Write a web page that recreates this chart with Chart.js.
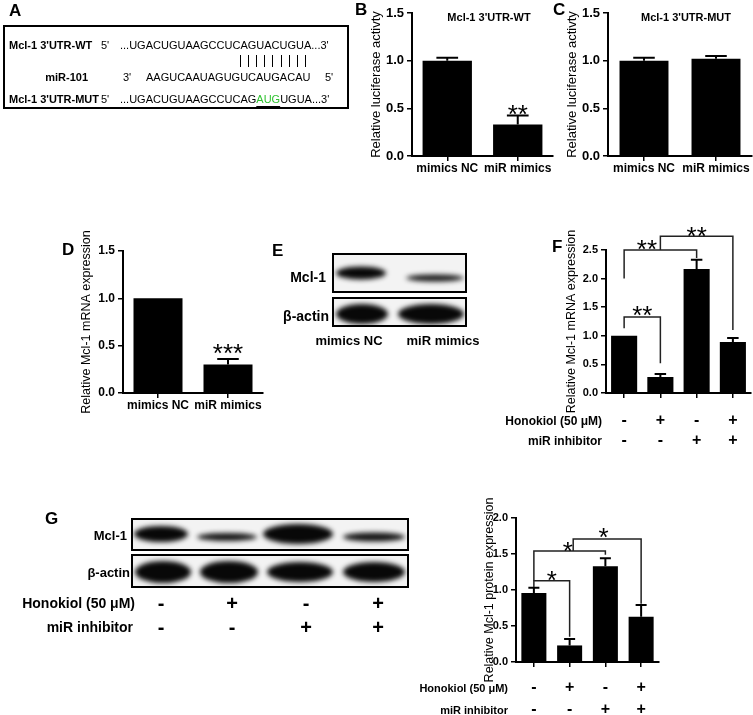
<!DOCTYPE html>
<html>
<head>
<meta charset="utf-8">
<title>miR-101 / Mcl-1</title>
<script src="https://cdn.jsdelivr.net/npm/chart.js@4.4.1/dist/chart.umd.min.js"></script>
<style>
  html, body { margin: 0; padding: 0; background: #fff; }
  #fig { position: relative; width: 753px; height: 715px; overflow: hidden;
         font-family: "Liberation Sans", Arial, sans-serif; color: #000; }
  #fig canvas { position: absolute; }
  .t { position: absolute; white-space: nowrap; line-height: 1; }
  .b { font-weight: bold; }
  .box { position: absolute; border: 2px solid #000; box-sizing: border-box; }
  .pair { position: absolute; width: 1px; height: 12px; background: #000; }
  .mut { color: #2fc22f; text-decoration: underline; text-decoration-color: #000; text-underline-offset: 3px; }
</style>
</head>
<body>
<div id="fig">
  <canvas id="blots" width="753" height="715" style="left:0;top:0"></canvas>
  <div class="box" style="left:3px;top:25px;width:346px;height:84px"></div>
  <canvas id="chartB" width="200" height="200" style="left:355px;top:0"></canvas>
  <canvas id="chartC" width="203" height="200" style="left:550px;top:0"></canvas>
  <canvas id="chartD" width="265" height="200" style="left:0;top:230px"></canvas>
  <canvas id="chartF" width="203" height="240" style="left:550px;top:220px"></canvas>
  <canvas id="chartG" width="313" height="235" style="left:440px;top:480px"></canvas>
</div>
<script>
// ---- data ----
const mimicLabels = ["mimics NC", "miR mimics"];
const wtValues = [1.0, 0.33];
const wtErrors = [0.03, 0.095];
const mutValues = [1.0, 1.02];
const mutErrors = [0.03, 0.03];
const mrnaValues = [1.0, 0.30];
const mrnaErrors = [0, 0.06];

const groupLabels = ["NC", "Honokiol", "inhibitor", "Honokiol + inhibitor"];
const honokiolSigns = ["-", "+", "-", "+"];
const inhibitorSigns = ["-", "-", "+", "+"];
const comboMrnaValues = [1.0, 0.28, 2.17, 0.89];
const comboMrnaErrors = [0, 0.05, 0.16, 0.07];
const proteinValues = [0.96, 0.23, 1.33, 0.63];
const proteinErrors = [0.07, 0.09, 0.11, 0.16];

// brackets: [from index, to index, level, left leg end, right leg end]
const comboMrnaBrackets = [[0, 1, 1.33, 1.13, 0.52], [0, 2, 2.5, 2.0, 2.36], [1, 3, 2.74, 2.5, 1.1]];
const proteinBrackets = [[0, 1, 1.13, 1.04, 0.35], [0, 2, 1.54, 1.13, 1.49], [1.1, 3, 1.71, 1.54, 0.81]];
// stars: [x index, y value (centre), text]
const wtStars = [[1, 0.48, "**"]];
const mrnaStars = [[1, 0.465, "***"]];
const comboMrnaStars = [[0.5, 1.43, "**"], [0.63, 2.59, "**"], [2, 2.81, "**"]];
const proteinStars = [[0.5, 1.19, "*"], [0.95, 1.6, "*"], [1.95, 1.79, "*"]];

Chart.defaults.font.family = "'Liberation Sans', Arial, sans-serif";
Chart.defaults.color = "#000";

const fig = document.getElementById("fig");
function put(html, x, y, size, bold, align) {
  const d = document.createElement("div");
  d.className = "t" + (bold ? " b" : "");
  d.innerHTML = html;
  d.style.left = x + "px";
  d.style.top = (y - size / 2) + "px";
  d.style.fontSize = size + "px";
  if (align === "c") d.style.transform = "translateX(-50%)";
  if (align === "r") d.style.transform = "translateX(-100%)";
  fig.appendChild(d);
}

// error bars, brackets, stars and +/- rows
const extrasPlugin = {
  id: "extras",
  afterDatasetsDraw(chart, args, opts) {
    const { ctx, chartArea, scales: { x, y } } = chart;
    const meta = chart.getDatasetMeta(0);
    const values = chart.data.datasets[0].data;
    ctx.save();
    ctx.strokeStyle = "#000";
    ctx.lineWidth = 2;
    (opts.errors || []).forEach((err, i) => {
      if (!err) return;
      const bar = meta.data[i];
      const top = y.getPixelForValue(values[i] + err);
      const half = bar.width * 0.22;
      ctx.beginPath();
      ctx.moveTo(bar.x, bar.y);
      ctx.lineTo(bar.x, top);
      ctx.moveTo(bar.x - half, top);
      ctx.lineTo(bar.x + half, top);
      ctx.stroke();
    });
    ctx.lineWidth = 1.5;
    ctx.strokeStyle = "#222";
    (opts.brackets || []).forEach(([a, b, lvl, endA, endB]) => {
      const xa = x.getPixelForValue(a), xb = x.getPixelForValue(b);
      ctx.beginPath();
      ctx.moveTo(xa, y.getPixelForValue(endA));
      ctx.lineTo(xa, y.getPixelForValue(lvl));
      ctx.lineTo(xb, y.getPixelForValue(lvl));
      ctx.lineTo(xb, y.getPixelForValue(endB));
      ctx.stroke();
    });
    ctx.fillStyle = "#000";
    ctx.textAlign = "center";
    ctx.textBaseline = "alphabetic";
    const starSize = opts.starSize || 26;
    ctx.font = starSize + "px 'Liberation Sans', Arial, sans-serif";
    const m = ctx.measureText("*");
    const shift = (m.actualBoundingBoxAscent - m.actualBoundingBoxDescent) / 2;
    (opts.stars || []).forEach(([i, v, s]) => {
      ctx.fillText(s, x.getPixelForValue(i), y.getPixelForValue(v) + shift);
    });
    if (opts.signs) {
      ctx.font = "bold " + opts.signs.size + "px 'Liberation Sans', Arial, sans-serif";
      ctx.textBaseline = "middle";
      opts.signs.rows.forEach((row, r) => {
        row.forEach((s, i) => {
          ctx.fillText(s, x.getPixelForValue(i), chartArea.bottom + opts.signs.offsets[r]);
        });
      });
    }
    ctx.restore();
  }
};

function barChart(id, cfg) {
  return new Chart(document.getElementById(id), {
    type: "bar",
    data: {
      labels: cfg.labels,
      datasets: [{
        data: cfg.values,
        backgroundColor: "#000",
        borderWidth: 0,
        barPercentage: cfg.barPct,
        categoryPercentage: 1,
      }],
    },
    options: {
      responsive: false,
      animation: false,
      layout: { padding: cfg.padding },
      plugins: {
        legend: { display: false },
        tooltip: { enabled: false },
        extras: cfg.extras,
      },
      scales: {
        x: {
          grid: { offset: false, drawOnChartArea: false, tickLength: 5, color: "#000", lineWidth: 1.5 },
          border: { color: "#000", width: 2 },
          ticks: { display: cfg.showLabels, font: { size: 12, weight: "bold" }, padding: 0, maxRotation: 0, autoSkip: false },
          afterFit: (s) => { s.height = cfg.xH; },
        },
        y: {
          min: 0,
          max: cfg.yMax,
          ticks: { stepSize: 0.5, callback: (v) => v.toFixed(1), font: { size: cfg.tickSize, weight: "bold" }, padding: 3 },
          grid: { drawOnChartArea: false, tickLength: 5, color: "#000", lineWidth: 1.5 },
          border: { color: "#000", width: 2 },
          title: { display: true, text: cfg.yTitle, font: { size: cfg.titleSize }, padding: { top: cfg.titlePad, bottom: 0 } },
          afterFit: (s) => { s.width = cfg.yW; },
        },
      },
    },
    plugins: [extrasPlugin],
  });
}

// B
barChart("chartB", {
  labels: mimicLabels, values: wtValues, barPct: 0.7, yMax: 1.5,
  padding: { left: 0, top: 13, right: 2, bottom: 0 }, yW: 57, xH: 44,
  showLabels: true, tickSize: 13, yTitle: "Relative luciferase activty", titleSize: 13, titlePad: 13.5,
  extras: { errors: wtErrors, stars: wtStars },
});
// C
barChart("chartC", {
  labels: mimicLabels, values: mutValues, barPct: 0.68, yMax: 1.5,
  padding: { left: 0, top: 13, right: 1, bottom: 0 }, yW: 58, xH: 44,
  showLabels: true, tickSize: 13, yTitle: "Relative luciferase activty", titleSize: 13, titlePad: 14.5,
  extras: { errors: mutErrors },
});
// D
barChart("chartD", {
  labels: mimicLabels, values: mrnaValues, barPct: 0.7, yMax: 1.5,
  padding: { left: 0, top: 21, right: 2, bottom: 0 }, yW: 123, xH: 37,
  showLabels: true, tickSize: 12, yTitle: "Relative Mcl-1 mRNA expression", titleSize: 12.5, titlePad: 79.5,
  extras: { errors: mrnaErrors, stars: mrnaStars },
});
// F
barChart("chartF", {
  labels: groupLabels, values: comboMrnaValues, barPct: 0.72, yMax: 2.5,
  padding: { left: 0, top: 30, right: 2, bottom: 0 }, yW: 56, xH: 67,
  showLabels: false, tickSize: 11, yTitle: "Relative Mcl-1 mRNA expression", titleSize: 12.5, titlePad: 14.5,
  extras: { errors: comboMrnaErrors, brackets: comboMrnaBrackets, stars: comboMrnaStars,
            signs: { rows: [honokiolSigns, inhibitorSigns], offsets: [28, 48], size: 16 } },
});
// G (chart)
barChart("chartG", {
  labels: groupLabels, values: proteinValues, barPct: 0.7, yMax: 2.0,
  padding: { left: 0, top: 38, right: 94, bottom: 0 }, yW: 76, xH: 53,
  showLabels: false, tickSize: 11, yTitle: "Relative Mcl-1 protein expression", titleSize: 12.5, titlePad: 42.5,
  extras: { errors: proteinErrors, brackets: proteinBrackets, stars: proteinStars,
            signs: { rows: [honokiolSigns, inhibitorSigns], offsets: [26, 48], size: 16 } },
});

// ---- western blot images (E and G) ----
const blotBoxes = [
  { box: [332, 253, 135, 40], bands: [[361, 273, 25, 6.5, 1], [435, 278, 29, 3.5, 0.92]] },
  { box: [332, 297, 135, 30], bands: [[362, 314, 26, 10, 1], [431, 314, 33, 10, 1]] },
  { box: [131, 518, 278, 33], bands: [[161, 534, 27, 8, 1], [227, 537, 30, 4, 0.95], [298, 534, 35, 10, 1], [374, 537, 31, 4.5, 0.95]] },
  { box: [131, 554, 278, 34], bands: [[163, 572, 28, 11, 1], [229, 572, 29, 11, 1], [300, 572, 33, 10, 1], [374, 572, 31, 10, 1]] },
];
(function drawBlots() {
  const ctx = document.getElementById("blots").getContext("2d");
  blotBoxes.forEach(({ box: [bx, by, bw, bh], bands }) => {
    ctx.save();
    ctx.beginPath();
    ctx.rect(bx, by, bw, bh);
    ctx.clip();
    ctx.fillStyle = "#f3f3f3";
    ctx.fillRect(bx, by, bw, bh);
    ctx.filter = "blur(2.5px)";
    bands.forEach(([cx, cy, rw, rh, a]) => {
      ctx.fillStyle = "rgba(8,8,8," + a + ")";
      ctx.beginPath();
      ctx.ellipse(cx, cy, rw, rh, 0, 0, Math.PI * 2);
      ctx.fill();
    });
    ctx.restore();
    ctx.lineWidth = 2;
    ctx.strokeStyle = "#000";
    ctx.strokeRect(bx + 1, by + 1, bw - 2, bh - 2);
  });
})();

// ---- panel letters ----
put("A", 9, 10, 17, true);
put("B", 355, 9, 17, true);
put("C", 553, 9, 17, true);
put("D", 62, 249, 17, true);
put("E", 272, 250, 17, true);
put("F", 552, 246, 17, true);
put("G", 45, 518, 17, true);

// ---- panel A sequences ----
put("Mcl-1 3'UTR-WT", 9, 45, 11, true);
put("5'", 101, 45, 11);
put("...UGACUGUAAGCCUCAGUACUGUA...3'", 120, 45, 11);
for (let i = 0; i < 9; i++) {
  const p = document.createElement("div");
  p.className = "pair";
  p.style.left = Math.round(240 + i * 8.1) + "px";
  p.style.top = "55px";
  fig.appendChild(p);
}
put("miR-101", 88, 77, 11, true, "r");
put("3'", 123, 77, 11);
put("AAGUCAAUAGUGUCAUGACAU", 146, 77, 11);
put("5'", 325, 77, 11);
put("Mcl-1 3'UTR-MUT", 9, 99, 11, true);
put("5'", 101, 99, 11);
put("...UGACUGUAAGCCUCAG<span class=\"mut\">AUG</span>UGUA...3'", 120, 99, 11);

// ---- chart titles B / C ----
put("Mcl-1 3'UTR-WT", 489, 17, 11, true, "c");
put("Mcl-1 3'UTR-MUT", 686, 17, 11, true, "c");

// ---- E labels ----
put("Mcl-1", 326, 277, 14, true, "r");
put("&beta;-actin", 329, 316, 14, true, "r");
put("mimics NC", 349, 340, 13, true, "c");
put("miR mimics", 443, 340, 13, true, "c");

// ---- F row labels ----
put("Honokiol (50 &mu;M)", 602, 421, 12, true, "r");
put("miR inhibitor", 602, 441, 12, true, "r");

// ---- G blot labels ----
put("Mcl-1", 127, 535, 13, true, "r");
put("&beta;-actin", 130, 572, 13, true, "r");
put("Honokiol (50 &mu;M)", 135, 603, 14, true, "r");
put("miR inhibitor", 133, 627, 14, true, "r");
const blotLanes = [161, 232, 306, 378];
blotLanes.forEach((lx, i) => {
  put(honokiolSigns[i], lx, 603, 20, true, "c");
  put(inhibitorSigns[i], lx, 627, 20, true, "c");
});

// ---- G chart row labels ----
put("Honokiol (50 &mu;M)", 508, 688, 11, true, "r");
put("miR inhibitor", 508, 710, 11, true, "r");
</script>
</body>
</html>
